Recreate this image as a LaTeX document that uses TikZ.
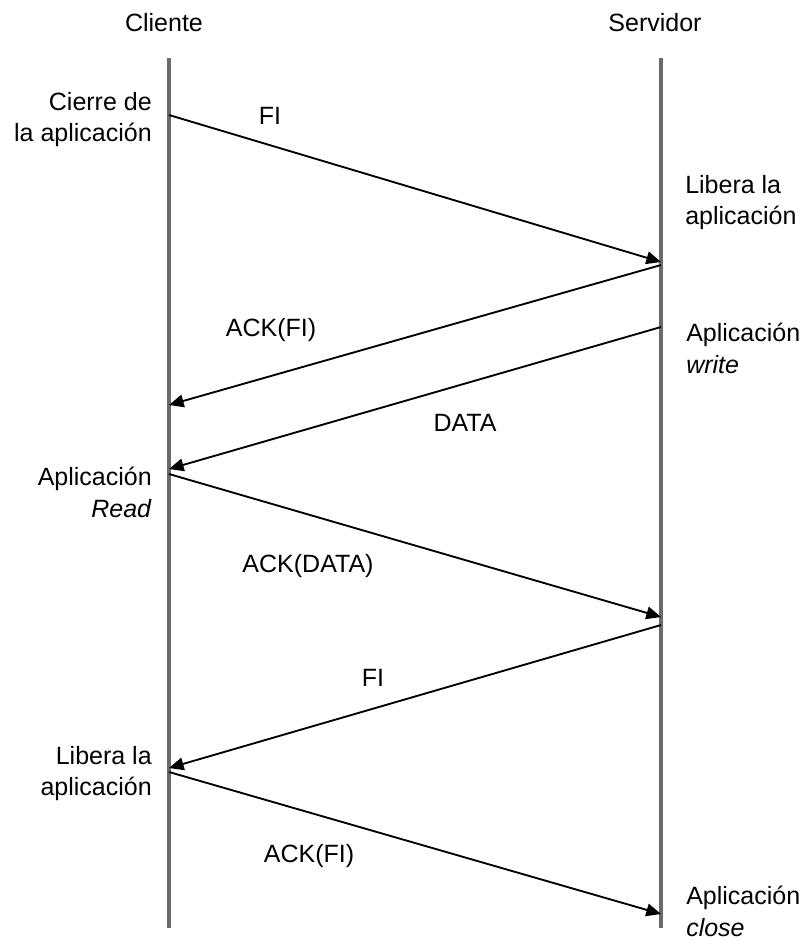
\documentclass[tikz,border=0pt]{standalone}
\usepackage{fontspec}
\setmainfont{Liberation Sans}
\usetikzlibrary{arrows.meta}
\definecolor{lifeln}{HTML}{6A6A6A}

\begin{document}
\begin{tikzpicture}[x=0.75pt,y=-0.75pt,font=\fontsize{18.75}{23.5}\selectfont,
    lifeline/.style={draw=lifeln,line width=2.3pt},
    msg/.style={draw=black,line width=1.4pt,-{Triangle[length=11pt,width=9.5pt]}},
    evl/.style={inner sep=0pt,align=right,anchor=north east},
    evr/.style={inner sep=0pt,align=left,anchor=north west},
    lbl/.style={inner sep=0pt}]
  \useasboundingbox (0,0) rectangle (805,940);
  % the two ends of the connection
  \node[lbl] (cli) at (164,23) {Cliente};
  \node[lbl] (srv) at (655,23) {Servidor};
  \coordinate (cliTop) at (169,58); \coordinate (cliBot) at (169,928);
  \coordinate (srvTop) at (661,58); \coordinate (srvBot) at (661,928);
  \draw[lifeline] (cliTop) -- (cliBot);
  \draw[lifeline] (srvTop) -- (srvBot);
  % where each segment leaves / reaches a lifeline
  \foreach \n/\y in {a/115,b/405,c/469,d/474,e/768,f/772}{\coordinate (C\n) at (169,\y);}
  \foreach \n/\y in {a/262,b/265,c/327,d/617,e/625,f/914}{\coordinate (S\n) at (661,\y);}
  \draw[msg] (Ca) -- (Sa);
  \draw[msg] (Sb) -- (Cb);
  \draw[msg] (Sc) -- (Cc);
  \draw[msg] (Cd) -- (Sd);
  \draw[msg] (Se) -- (Ce);
  \draw[msg] (Cf) -- (Sf);
  % segment names
  \node[lbl] (fiA) at (270,116) {FI};
  \node[lbl] (ackA) at (271,330) {ACK(FI)};
  \node[lbl] (data) at (465,423) {DATA};
  \node[lbl] (ackD) at (308,566) {ACK(DATA)};
  \node[lbl] (fiB) at (373,678) {FI};
  \node[lbl] (ackB) at (309,856) {ACK(FI)};
  % events on the client side
  \node[evl] (cierre) at (152,92) {Cierre de\\la aplicación};
  \node[evl] (read) at (152,467) {Aplicación\\\textit{Read}};
  \node[evl] (libC) at (152,746) {Libera la\\aplicación};
  % events on the server side
  \node[evr] (libS) at (685,175) {Libera la\\aplicación};
  \node[evr] (write) at (686,323) {Aplicación\\\textit{write}};
  \node[evr] (close) at (686,886) {Aplicación\\\textit{close}};
\end{tikzpicture}
\end{document}
